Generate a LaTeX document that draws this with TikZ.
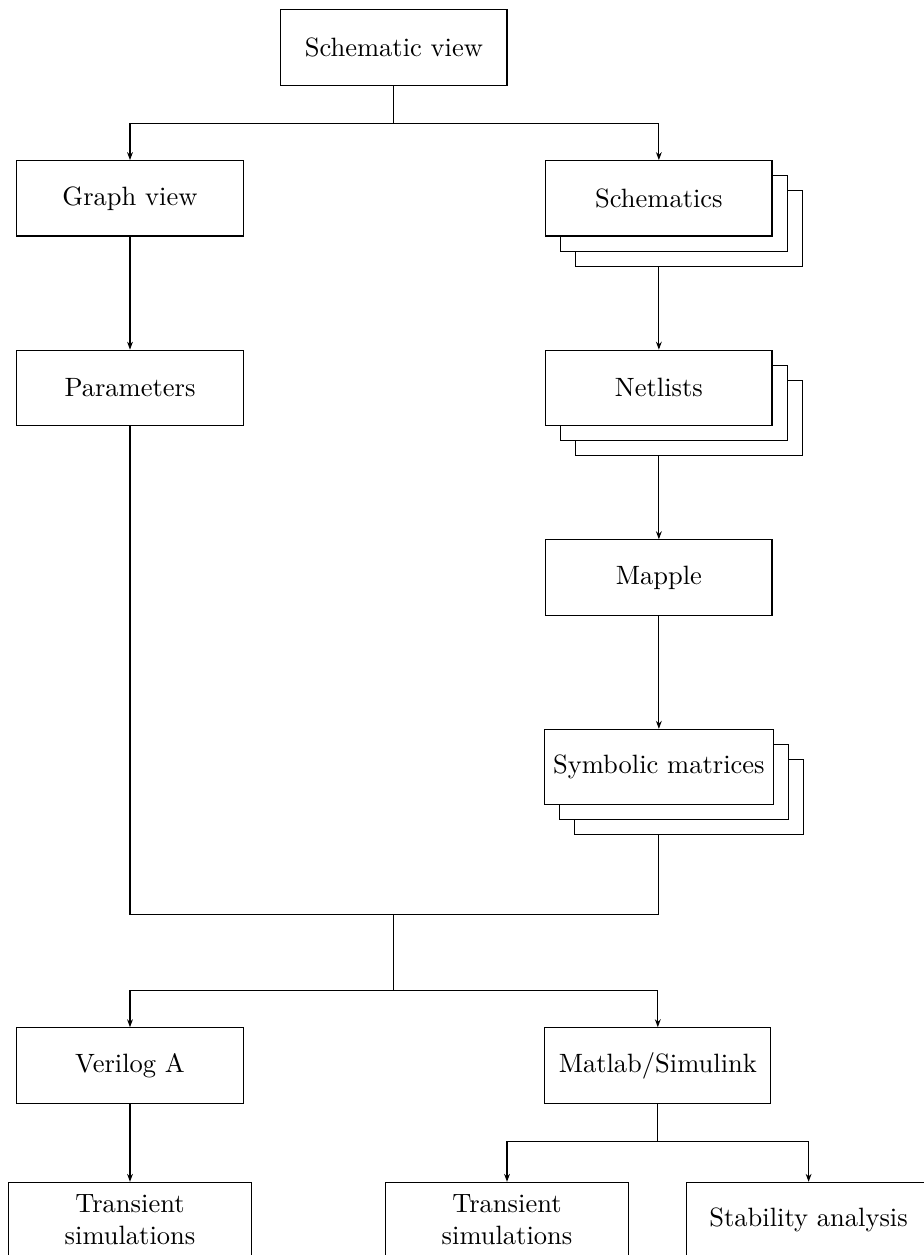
\documentclass[tikz,border=0pt]{standalone}
\usepackage{tikz}
\usetikzlibrary{arrows.meta,positioning,shadows}

\begin{document}
\begin{tikzpicture}[
    node distance=1.5cm,
    box/.style={draw, fill=white, minimum width=3cm, minimum height=1cm, align=center},
    stackbox/.style={box,
        copy shadow={shadow xshift=0.4cm, shadow yshift=-0.4cm, draw, fill=white},
        copy shadow={shadow xshift=0.2cm, shadow yshift=-0.2cm, draw, fill=white}},
    leafbox/.style={box, text width=3cm},
    arr/.style={-{Stealth[length=3pt, width=2.2pt]}}
]
\useasboundingbox (-1.724,0.63) rectangle (10.517,-16.014);

\node[box] (sv) at (3.5,0) {Schematic view};
\node[box] (gv) at (0,-2) {Graph view};
\node[stackbox, right=4cm of gv] (sch) {Schematics};
\node[box, below=of gv] (par) {Parameters};
\node[stackbox, below=of sch] (net) {Netlists};
\node[box, below=of net] (map) {Mapple};
\node[stackbox, below=of map] (sym) {Symbolic matrices};

\node[box] (va) at (0,-13.5) {Verilog A};
\node[box] (ml) at (7,-13.5) {Matlab/Simulink};
\node[leafbox] (tr1) at (0,-15.55) {Transient\\simulations};
\node[leafbox] (tr2) at (5,-15.55) {Transient\\simulations};
\node[leafbox] (stab) at (9,-15.55) {Stability analysis};

\coordinate (join) at (3.5,-11.5);
\coordinate (split) at (3.5,-12.5);

\draw[arr] (sv.south) -- ++(0,-0.5) -| (gv.north);
\draw[arr] (sv.south) -- ++(0,-0.5) -| (sch.north);
\draw[arr] (gv) -- (par);
\draw[arr] ([yshift=-0.4cm]sch.south) -- (net.north);
\draw[arr] ([yshift=-0.4cm]net.south) -- (map.north);
\draw[arr] (map) -- (sym);
\draw (par.south) |- (join) -| ([yshift=-0.4cm]sym.south);
\draw (join) -- (split);
\draw[arr] (split) -| (va.north);
\draw[arr] (split) -| (ml.north);
\draw[arr] (va) -- (tr1);
\draw[arr] (ml.south) -- ++(0,-0.5) -| (tr2.north);
\draw[arr] (ml.south) -- ++(0,-0.5) -| (stab.north);
\end{tikzpicture}
\end{document}
